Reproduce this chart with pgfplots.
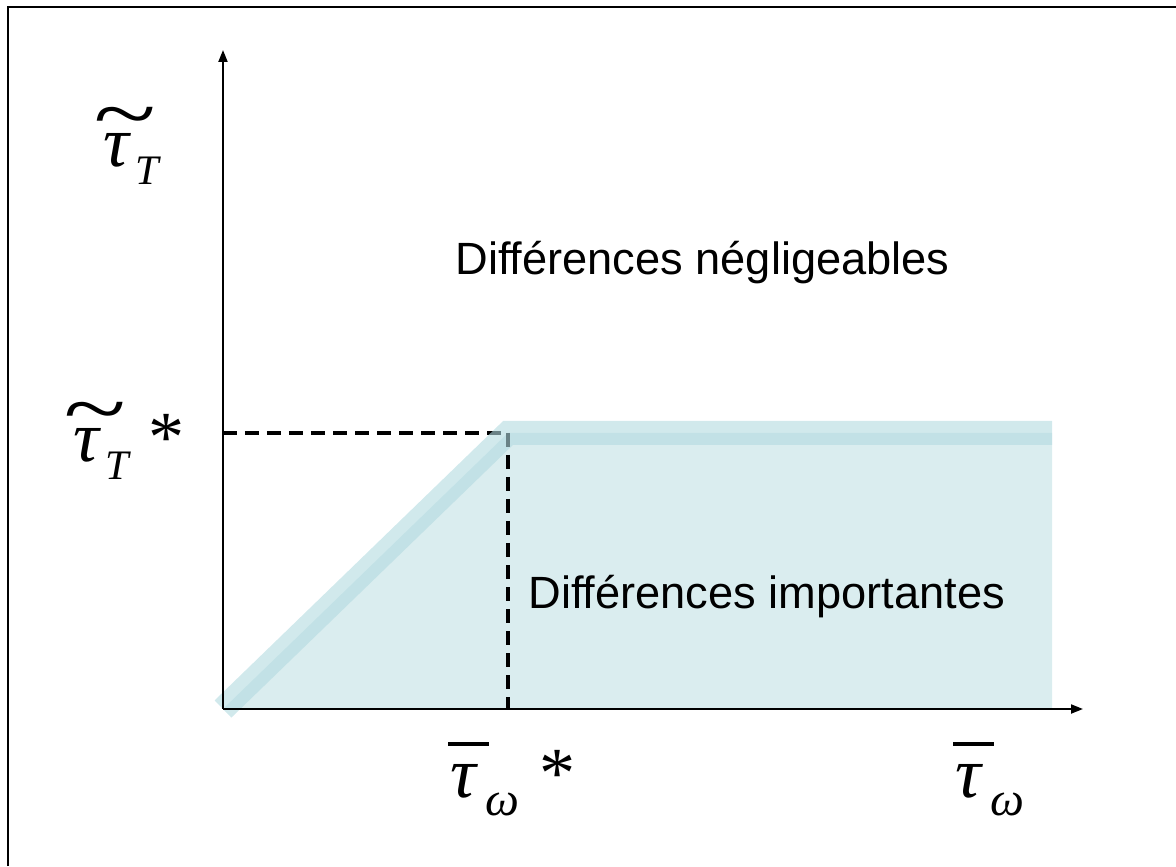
\documentclass[border=0pt]{standalone}
\usepackage{graphicx}
\usepackage{fontspec}
\setmainfont{Liberation Sans}
\newfontfamily\tms{Liberation Serif}
\usepackage{pgfplots}
\pgfplotsset{compat=1.18}
\usetikzlibrary{arrows.meta}

\definecolor{zonefill}{RGB}{218,237,239}
\definecolor{bandline}{RGB}{178,218,224}

% Times-like symbols built from Liberation Serif italic
\newcommand{\bigsym}{\tms\itshape\fontsize{36}{40}\selectfont}
\newcommand{\tildetau}{\makebox[16pt][l]{\ooalign{τ\cr\hidewidth\kern7pt\raisebox{12.5pt}{\scalebox{1.6}[1.15]{\textasciitilde}}\hidewidth\cr}}%
  \raisebox{-9pt}{\fontsize{21}{24}\selectfont T}}
\newcommand{\bartau}{\makebox[17.5pt][l]{\rlap{\hspace{-1pt}\raisebox{25.5pt}{\rule{20.5pt}{2pt}}}τ}%
  \raisebox{-9pt}{\fontsize{24}{26}\selectfont ω}}
\newcommand{\upstar}{{\upshape *}}

% 1 px of the reference = 0.5pt; data x = px-223, data y = 709-py
\begin{document}
\begin{tikzpicture}
\begin{axis}[
  x=0.5pt, y=0.5pt,
  xmin=0, xmax=860, ymin=0, ymax=659,
  axis lines=left,
  axis line style={line width=1pt, -{Triangle[length=6pt,width=4.5pt]}},
  ticks=none,
  clip=false,
  axis on top]
  % zone of large differences
  \addplot[fill=zonefill, draw=none] coordinates {(0,0) (285,276) (829,276) (829,0)} -- cycle;
  % dashed guides
  \addplot[black, line width=1.6pt, dash pattern=on 7pt off 4pt] coordinates {(0,276) (285,276)};
  \addplot[black, line width=1.6pt, dash pattern=on 7pt off 4pt] coordinates {(285,276) (285,0)};
  % threshold band
  \addplot[bandline, line width=12pt, opacity=0.6] coordinates {(0,0) (285,276) (829,276)};

  \node[anchor=base west, inner sep=0, font=\fontsize{22.6}{26}\selectfont] at (axis cs:232,434) {Différences négligeables};
  \node[anchor=base west, inner sep=0, font=\fontsize{22.6}{26}\selectfont] at (axis cs:305,101) {Différences importantes};

  \node[anchor=base west, inner sep=0, font=\bigsym] at (axis cs:-120,542) {\tildetau};
  \node[anchor=base west, inner sep=0, font=\bigsym] at (axis cs:-150,247) {\tildetau\hspace{10pt}\upstar};
  \node[anchor=base west, inner sep=0, font=\bigsym] at (axis cs:227,-88) {\bartau\hspace{10pt}\upstar};
  \node[anchor=base west, inner sep=0, font=\bigsym] at (axis cs:732,-88) {\bartau};

  % slide frame (top and left edges)
  \draw[line width=1pt] (axis cs:-215.3,-157) -- (axis cs:-215.3,702) -- (axis cs:953,702);
  \coordinate (bl) at (axis cs:-223,-157);
  \coordinate (tr) at (axis cs:953,709);
\end{axis}
\pgfresetboundingbox
\path (bl) rectangle (tr);
\end{tikzpicture}
\end{document}
